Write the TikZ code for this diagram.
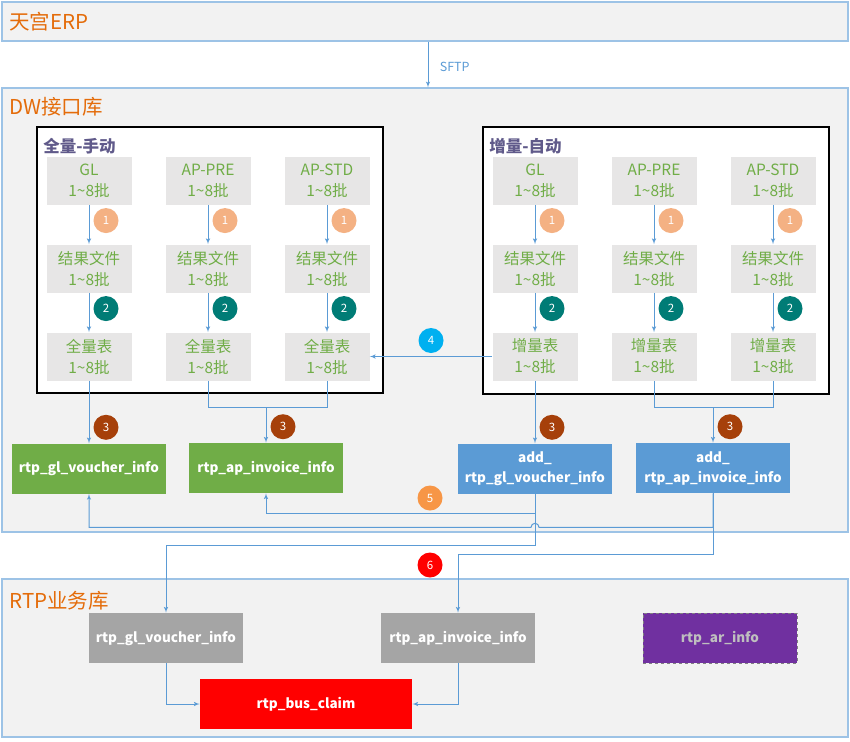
\documentclass[tikz,border=0pt]{standalone}
\usepackage{fontspec}
\setmainfont{Noto Sans CJK SC}
\usepackage{tikz}
\usetikzlibrary{positioning, calc, arrows, shapes}

\definecolor{framebd}{RGB}{157,195,230}
\definecolor{framebg}{RGB}{242,242,242}
\definecolor{labor}{RGB}{228,108,10}
\definecolor{linebl}{RGB}{91,155,213}
\definecolor{cellbg}{RGB}{231,230,230}
\definecolor{cellfg}{RGB}{112,173,71}
\definecolor{titfg}{RGB}{96,90,138}
\definecolor{bone}{RGB}{244,177,131}
\definecolor{btwo}{RGB}{0,124,118}
\definecolor{bthree}{RGB}{166,64,10}
\definecolor{bfour}{RGB}{0,176,240}
\definecolor{bfive}{RGB}{247,150,70}
\definecolor{tgreen}{RGB}{112,173,71}
\definecolor{tblue}{RGB}{91,155,213}
\definecolor{tgray}{RGB}{165,165,165}
\definecolor{tpurple}{RGB}{112,48,160}

\newcommand{\batch}{1\textasciitilde 8批}

\begin{document}
\begin{tikzpicture}[x=1pt, y=-1pt, >=latex', semithick, ampersand replacement=\&,
    frame/.style={draw=framebd, fill=framebg, line width=1.2pt, inner sep=0pt},
    flabel/.style={text=labor, font=\fontsize{20.5}{20.5}\selectfont, anchor=west, inner sep=0pt},
    group/.style={draw=black, fill=white, line width=1.2pt, inner sep=0pt},
    gtitle/.style={text=titfg, font=\bfseries\fontsize{16.5}{16.5}\selectfont, anchor=west, inner sep=0pt},
    cell/.style={fill=cellbg, text=cellfg, minimum width=85pt, minimum height=48pt, align=center, font=\fontsize{15.5}{21}\selectfont},
    tbl/.style={minimum width=154pt, minimum height=50pt, text=white, align=center, font=\bfseries\fontsize{13.5}{20}\selectfont},
    badge/.style={circle, minimum size=25pt, inner sep=0pt, text=white, font=\fontsize{11.5}{11.5}\selectfont},
    link/.style={draw=linebl, line width=1pt}]

  \useasboundingbox (0,0) rectangle (850,741);

  % layers
  \node[frame, minimum width=846pt, minimum height=39pt] (erp) at (425,21.5) {};
  \node[flabel] (terp) at (9,22) {天宫ERP};
  \node[frame, minimum width=846pt, minimum height=444pt] (dw) at (425,310) {};
  \node[flabel] (tdw) at (9,107) {DW接口库};
  \node[frame, minimum width=846pt, minimum height=158pt] (rtp) at (425,658) {};
  \node[flabel] (trtp) at (9,601) {RTP业务库};

  \coordinate (sftp) at (428,0);
  \draw[link,->] (erp.south -| sftp) -- (dw.north -| sftp)
    node[pos=0.55, right=8pt, text=linebl, font=\fontsize{12.5}{12.5}\selectfont] (tsftp) {SFTP};

  % full / manual
  \node[group, minimum width=346pt, minimum height=266pt] (full) at (210,260) {};
  \node[gtitle] (tfull) at (43,146) {全量-手动};
  \matrix[nodes={cell}, row sep=40pt, column sep=34pt] (mfull) at (208,268.5) {
    \node (qgl) {GL\\\batch};
    \& \node (qpre) {AP-PRE\\\batch};
    \& \node (qstd) {AP-STD\\\batch};\\
    \node (qglf) {结果文件\\\batch};
    \& \node (qpref) {结果文件\\\batch};
    \& \node (qstdf) {结果文件\\\batch};\\
    \node (qglt) {全量表\\\batch};
    \& \node (qpret) {全量表\\\batch};
    \& \node (qstdt) {全量表\\\batch};\\
  };

  % incremental / auto
  \node[group, minimum width=346pt, minimum height=267pt] (inc) at (656,260.5) {};
  \node[gtitle] (tinc) at (489,146) {增量-自动};
  \matrix[nodes={cell}, row sep=40pt, column sep=34pt] (minc) at (654,268.5) {
    \node (zgl) {GL\\\batch};
    \& \node (zpre) {AP-PRE\\\batch};
    \& \node (zstd) {AP-STD\\\batch};\\
    \node (zglf) {结果文件\\\batch};
    \& \node (zpref) {结果文件\\\batch};
    \& \node (zstdf) {结果文件\\\batch};\\
    \node (zglt) {增量表\\\batch};
    \& \node (zpret) {增量表\\\batch};
    \& \node (zstdt) {增量表\\\batch};\\
  };

  \foreach \n in {qgl, qpre, qstd, zgl, zpre, zstd} {
    \draw[link,->] (\n) -- (\n f);
    \draw[link,->] (\n f) -- (\n t);
    \node[badge, fill=bone] (one\n) at ($(\n.south)!0.4!(\n f.north)+(17,0)$) {1};
    \node[badge, fill=btwo] (two\n) at ($(\n f.south)!0.4!(\n t.north)+(17,0)$) {2};
  }

  % interface tables
  \node[tbl, fill=tgreen, below=62.5pt of qglt] (gvou) {rtp\_gl\_voucher\_info};
  \node[tbl, fill=tgreen] (gap) at (266,468) {rtp\_ap\_invoice\_info};
  \node[tbl, fill=tblue, below=62.5pt of zglt] (agl) {add\_\\rtp\_gl\_voucher\_info};
  \node[tbl, fill=tblue] (aap) at (713,468) {add\_\\rtp\_ap\_invoice\_info};

  \coordinate (jq) at ($(gap.north)+(0,-35)$);
  \coordinate (jz) at ($(aap.north)+(0,-35)$);
  \draw[link,->] (qglt.south) -- (gvou.north);
  \draw[link] (qpret.south) |- (jq) -| (qstdt.south);
  \draw[link,->] (jq) -- (gap.north);
  \draw[link,->] (zglt.south) -- (agl.north);
  \draw[link] (zpret.south) |- (jz) -| (zstdt.south);
  \draw[link,->] (jz) -- (aap.north);
  \foreach \n in {gvou, gap, agl, aap}
    \node[badge, fill=bthree] (three\n) at ($(\n.north)+(17,-16)$) {3};

  \draw[link,->] (zglt.west) -- (qstdt.east)
    node[midway, badge, fill=bfour, above=3pt] (four) {4};

  % back to full tables
  \draw[link,->] (agl.south) -- ++(0,20) -| (gap.south);
  \draw[link,->] (aap.south) -- ++(0,34) coordinate (h5)
    -- ($(agl.south |- h5)+(4,0)$) arc[start angle=0, end angle=180, radius=4pt]
    -| (gvou.south);
  \node[badge, fill=bfive] (five) at (430,498) {5};

  % business tables
  \node[tbl, fill=tgray] (rgl) at (166,638) {rtp\_gl\_voucher\_info};
  \node[tbl, fill=tgray] (rap) at (458,638) {rtp\_ap\_invoice\_info};
  \node[tbl, fill=tpurple, draw=gray, dashed, text=lightgray] (rar) at (720,638) {rtp\_ar\_info};
  \node[tbl, fill=red, minimum width=212pt] (claim) at (306,704) {rtp\_bus\_claim};

  \draw[link,->] (agl.south) -- ++(0,52) -| (rgl.north);
  \draw[link,->] (aap.south) -- ++(0,61) -| (rap.north);
  \node[badge, fill=red] (six) at (430,565) {6};

  \draw[link,->] (rgl.south) |- (claim.west);
  \draw[link,->] (rap.south) |- (claim.east);
\end{tikzpicture}
\end{document}
